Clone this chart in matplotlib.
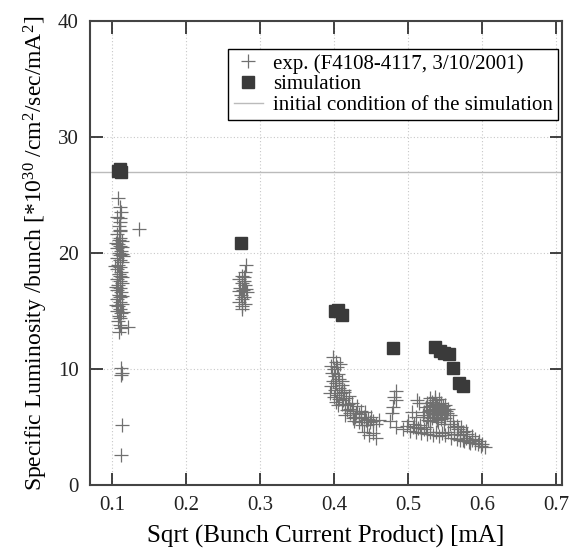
import numpy as np
import matplotlib
matplotlib.use("Agg")
import matplotlib.pyplot as plt

plt.rcParams.update({
    "font.family": "Liberation Serif",
    "mathtext.fontset": "custom",
    "mathtext.rm": "Liberation Serif",
    "mathtext.it": "Liberation Serif:italic",
})

# ------------- data -------------
# experiment (F4108-4117), grouped by current setting
exp_a_x = [0.108, 0.110, 0.112, 0.107, 0.110, 0.109, 0.111, 0.106, 0.110, 0.113,
           0.108, 0.110, 0.107, 0.112, 0.109, 0.111, 0.106, 0.110, 0.113, 0.108,
           0.110, 0.107, 0.112, 0.109, 0.111, 0.106, 0.110, 0.113, 0.108, 0.110,
           0.107, 0.112, 0.109, 0.111, 0.106, 0.110, 0.113, 0.108, 0.110, 0.107,
           0.112, 0.109, 0.111, 0.108, 0.110, 0.112, 0.109, 0.114, 0.105, 0.115,
           0.104, 0.114, 0.105, 0.114, 0.105, 0.115, 0.110, 0.111, 0.109, 0.113,
           0.136, 0.121, 0.112, 0.113, 0.112, 0.113, 0.112]
exp_a_y = [24.7, 24.0, 23.5, 23.1, 22.7, 22.3, 21.9, 21.6, 21.3, 21.0,
           20.8, 20.6, 20.4, 20.2, 20.0, 19.8, 19.6, 19.4, 19.2, 19.0,
           18.8, 18.6, 18.4, 18.2, 18.0, 17.8, 17.6, 17.4, 17.2, 17.0,
           16.8, 16.6, 16.4, 16.2, 16.0, 15.8, 15.6, 15.4, 15.2, 15.0,
           14.8, 14.6, 14.4, 14.1, 13.8, 13.5, 13.2, 20.5, 20.9, 19.7,
           18.9, 17.9, 17.1, 16.3, 15.5, 14.9, 22.0, 23.0, 21.1, 19.9,
           22.1, 13.6, 10.1, 9.7, 9.5, 5.2, 2.6]

exp_b_x = [0.281, 0.279, 0.276, 0.272, 0.278, 0.275, 0.280, 0.273, 0.277, 0.282,
           0.274, 0.278, 0.276, 0.272, 0.279, 0.276, 0.281, 0.271, 0.275, 0.278]
exp_b_y = [19.0, 18.4, 18.0, 17.8, 17.6, 17.4, 17.2, 17.0, 16.8, 16.6,
           16.4, 16.2, 16.0, 15.8, 15.6, 15.4, 16.9, 16.7, 15.2, 17.9]

exp_c_x = [0.398, 0.402, 0.396, 0.400, 0.404, 0.397, 0.401, 0.405, 0.399, 0.403,
           0.407, 0.396, 0.401, 0.406, 0.410, 0.404, 0.409, 0.413, 0.400, 0.407,
           0.412, 0.416, 0.410, 0.415, 0.419, 0.405, 0.418, 0.422, 0.426, 0.421,
           0.430, 0.428, 0.434, 0.437, 0.440, 0.443, 0.446, 0.449, 0.452, 0.456,
           0.460, 0.445, 0.440, 0.447, 0.452, 0.457, 0.433, 0.425,
           0.394, 0.408, 0.403, 0.411, 0.414, 0.420, 0.424, 0.431, 0.436, 0.442,
           0.415, 0.427, 0.438, 0.450]
exp_c_y = [11.0, 10.6, 10.3, 10.0, 10.2, 9.7, 9.4, 9.6, 9.0, 8.8,
           9.1, 8.5, 8.2, 8.4, 8.6, 7.8, 7.9, 8.0, 7.6, 7.4,
           7.3, 7.5, 7.0, 6.9, 7.0, 6.9, 6.5, 6.6, 6.4, 6.2,
           6.2, 5.9, 6.1, 5.8, 5.9, 5.6, 5.7, 5.4, 5.5, 5.3,
           5.6, 5.2, 4.6, 4.3, 4.5, 4.1, 5.4, 5.8,
           7.9, 10.4, 7.2, 9.0, 8.2, 7.7, 7.1, 6.8, 6.4, 6.3,
           6.0, 5.5, 5.2, 5.9]

exp_d_x = [0.483, 0.481, 0.484, 0.480, 0.478, 0.476, 0.483,
           0.512, 0.515, 0.505, 0.510]
exp_d_y = [8.1, 7.6, 7.3, 6.7, 6.2, 5.5, 5.0,
           7.3, 7.1, 6.3, 5.9]

exp_e_x = [0.530, 0.536, 0.542, 0.526, 0.532, 0.538, 0.544, 0.550, 0.524, 0.530,
           0.536, 0.542, 0.548, 0.554, 0.522, 0.528, 0.534, 0.540, 0.546, 0.552,
           0.526, 0.532, 0.538, 0.544, 0.550, 0.530, 0.540, 0.548, 0.520, 0.556,
           0.493, 0.498, 0.502, 0.506, 0.510, 0.514, 0.518, 0.522, 0.526, 0.530,
           0.534, 0.538, 0.542, 0.546, 0.550, 0.554, 0.558, 0.562, 0.566, 0.570,
           0.574, 0.578, 0.582, 0.586, 0.590, 0.594, 0.598, 0.604, 0.556, 0.562,
           0.568, 0.574, 0.580, 0.586, 0.560, 0.566, 0.572, 0.578, 0.500, 0.508,
           0.516, 0.524, 0.590, 0.596,
           0.533, 0.539, 0.545, 0.529, 0.535, 0.541, 0.547, 0.527, 0.537, 0.543,
           0.539, 0.533, 0.545, 0.551, 0.584, 0.576, 0.570, 0.600]
exp_e_y = [7.5, 7.6, 7.4, 7.1, 7.2, 7.0, 7.1, 6.9, 6.7, 6.8,
           6.6, 6.7, 6.5, 6.6, 6.3, 6.4, 6.2, 6.3, 6.1, 6.2,
           5.9, 5.8, 5.9, 5.7, 5.8, 5.5, 5.4, 5.3, 6.0, 6.0,
           4.8, 5.1, 4.7, 5.0, 4.6, 4.9, 4.5, 4.8, 4.4, 4.6,
           4.3, 4.6, 4.2, 4.5, 4.3, 4.6, 4.1, 4.4, 4.0, 4.3,
           3.9, 4.1, 3.7, 3.9, 3.6, 3.5, 3.4, 3.3, 5.3, 5.0,
           4.8, 4.6, 4.4, 4.2, 5.5, 5.1, 5.0, 4.7, 5.5, 5.3,
           5.2, 5.0, 4.0, 3.8,
           6.9, 6.8, 6.4, 6.5, 6.1, 6.0, 6.8, 5.6, 7.3, 6.3,
           5.6, 6.6, 5.9, 6.4, 3.6, 3.8, 3.9, 3.5]

exp_x = exp_a_x + exp_b_x + exp_c_x + exp_d_x + exp_e_x
exp_y = exp_a_y + exp_b_y + exp_c_y + exp_d_y + exp_e_y

# simulation
sim_x = [0.108, 0.112, 0.110, 0.274, 0.401, 0.405, 0.411, 0.479,
         0.536, 0.543, 0.549, 0.555, 0.561, 0.569, 0.574]
sim_y = [27.1, 27.0, 27.2, 20.9, 15.0, 15.1, 14.65, 11.84,
         11.9, 11.58, 11.4, 11.3, 10.1, 8.8, 8.5]

init_y = 27.0   # initial condition of the simulation

# ------------- plot -------------
fig = plt.figure(figsize=(5.8, 5.5), dpi=100)
ax = fig.add_axes([0.155, 0.118, 0.814, 0.844])

ax.axhline(init_y, color="#bbbbbb", lw=1.0, zorder=1,
           label="initial condition of the simulation")
ax.plot(exp_x, exp_y, ls="none", marker="+", ms=9.5, mew=0.9,
        color="#707070", zorder=2, label="exp. (F4108-4117, 3/10/2001)")
ax.plot(sim_x, sim_y, ls="none", marker="s", ms=8.5,
        color="#3a3a3a", zorder=3, label="simulation")

ax.set_xlim(0.07, 0.708)
ax.set_ylim(0, 40)
ax.set_xticks([0.1, 0.2, 0.3, 0.4, 0.5, 0.6, 0.7])
ax.set_yticks([0, 10, 20, 30, 40])
ax.grid(True, ls=(0, (1, 2)), color="#c8c8c8", lw=0.8)
ax.tick_params(direction="in", length=9, width=1.2, top=True, right=True,
               labelsize=15, colors="#222222", pad=8)
for s in ax.spines.values():
    s.set_linewidth(1.5)
    s.set_color("#444444")

ax.set_xlabel("Sqrt (Bunch Current Product) [mA]", fontsize=18, labelpad=7)
ax.set_ylabel(r"Specific Luminosity /bunch [*10$^{30}$ /cm$^2$/sec/mA$^2$]",
              fontsize=17, labelpad=6)

h, l = ax.get_legend_handles_labels()
order = [1, 2, 0]
leg = ax.legend([h[i] for i in order], [l[i] for i in order],
                loc="upper right", bbox_to_anchor=(0.992, 0.94),
                borderaxespad=0, fancybox=False, framealpha=1,
                edgecolor="black", fontsize=15, handlelength=1.4,
                handletextpad=0.5, borderpad=0.25, labelspacing=0.05)
leg.get_frame().set_linewidth(1.0)

fig.savefig("out.png", dpi=100)
